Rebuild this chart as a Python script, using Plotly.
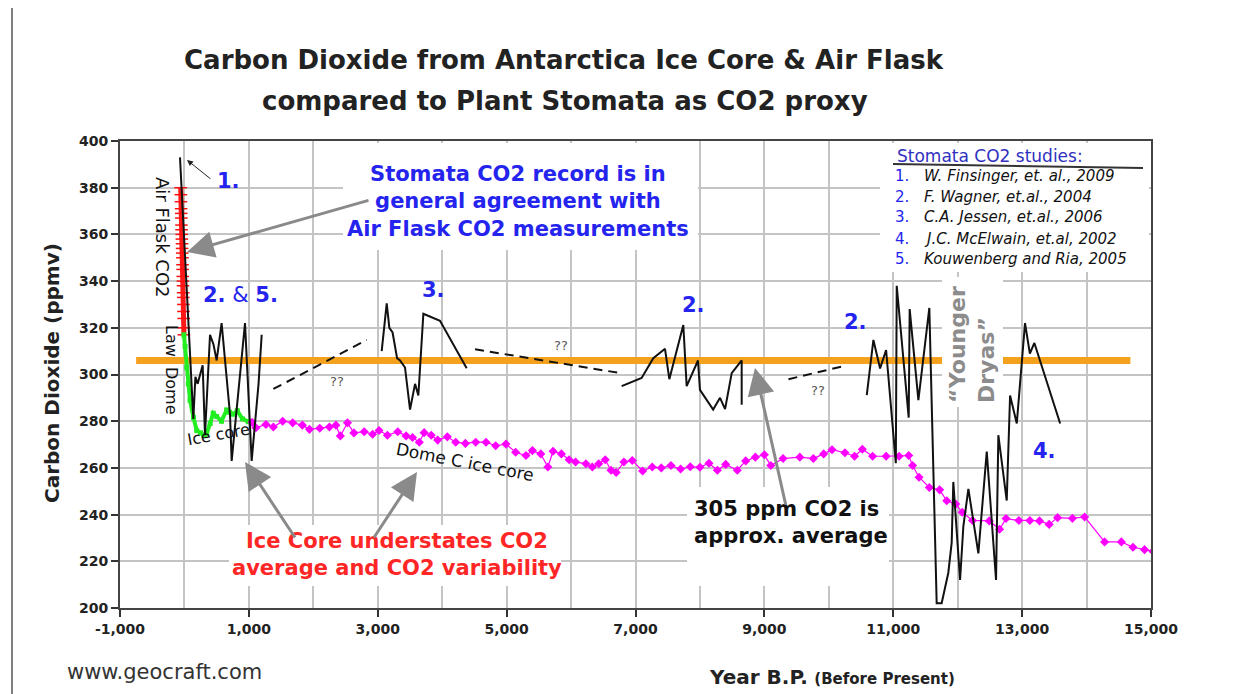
import plotly.graph_objects as go

# ---------------- data ----------------
orange_years = [-750, 14680]
orange_ppm = [306, 306]

red_years = [-58, -56, -54, -52, -50, -48, -46, -44, -42, -40, -38, -36, -34,
             -32, -30, -28, -26, -24, -22, -20, -18, -16, -14, -12, -10, -8]
red_ppm = [380, 377, 374, 371, 369, 367, 364, 362, 360, 358, 356, 354, 352,
           350, 347, 345, 342, 340, 338, 335, 333, 330, 327, 324, 320, 317]

green_years = [-8, 10, 35, 60, 87, 140, 190, 250, 300, 345, 400, 447, 500, 575,
               655, 700, 758, 820, 900, 991, 1050]
green_ppm = [317, 312, 303, 296, 289, 281.6, 276, 275, 274, 274.5, 279, 283.4,
             282, 280, 284.8, 283.8, 283, 284.5, 281, 279.8, 279.5]

mag_years = [1050, 1110, 1265, 1380, 1524, 1680, 1830, 1940, 2100, 2250,
             2350, 2420, 2530, 2630, 2790, 2920, 3020, 3150, 3310, 3440,
             3540, 3645, 3720, 3830, 3930, 4080, 4210, 4360, 4520, 4680,
             4830, 4990, 5140, 5300, 5400, 5530, 5640, 5720, 5850, 5970,
             6070, 6230, 6330, 6430, 6530, 6620, 6700, 6820, 6950, 7110,
             7260, 7400, 7550, 7700, 7850, 8000, 8140, 8270, 8400, 8580,
             8710, 8860, 9000, 9100, 9290, 9550, 9760, 9920, 10050, 10250,
             10400, 10520, 10680, 10890, 11090, 11240, 11300, 11400, 11560, 11720,
             11830, 11970, 12070, 12230, 12490, 12650, 12750, 12950, 13120, 13270,
             13420, 13550, 13780, 13970, 14280, 14540, 14720, 14900, 15030]
mag_ppm = [279.5, 277.2, 278.6, 277.5, 280, 279.3, 278.3, 276.5, 277, 277.5,
           278.3, 273.7, 279.3, 275, 275.5, 274.4, 276, 274, 275.5, 273.7,
           273, 271, 275.1, 274, 271.9, 273.3, 271, 270.5, 271, 271,
           269.5, 270.2, 266.7, 265.3, 267.4, 266, 260.4, 267.1, 266, 263.5,
           262.5, 261.8, 260.4, 261.8, 263.5, 259, 258, 262.5, 263.2, 258.7,
           260.4, 260, 261, 259.5, 260.5, 260.3, 262, 259, 261.5, 259,
           263, 264.6, 265.6, 261, 264, 264.6, 264, 266, 267.8, 266.5,
           265, 268, 265, 265, 265, 265.3, 261, 256, 251.6, 250.6,
           245.9, 244.5, 241, 237.5, 237.3, 233.7, 238.3, 237.5, 237.5, 237.3,
           235.8, 238.7, 238.4, 239, 228.3, 228.3, 226, 225, 224.3]

# stomata records (black)
st1_years = [-69, 138, 170, 205, 283, 319, 397, 450, 500, 577, 707, 733, 940, 1043, 1150, 1199]
st1_ppm = [393, 281, 299, 296, 304, 274, 317, 313, 306, 322, 283, 263, 322, 263, 296, 317]

st3_years = [3061, 3139, 3180, 3230, 3300, 3346, 3423, 3501, 3579, 3630, 3708, 3966, 4380]
st3_ppm = [310, 330.5, 320, 318, 307, 306, 303, 285, 296, 291, 326, 323, 302.7]

st2_years = [6785, 7095, 7276, 7458, 7525, 7742, 7794, 7925, 7970, 8000, 8205,
             8312, 8390, 8493, 8648, 8648]
st2_ppm = [295, 298.5, 307, 311, 298, 321.2, 295, 303, 306, 293.4, 285,
           290, 285.2, 300.6, 306, 287]

st4_years = [10589, 10692, 10796, 10889, 11040, 11054, 11240, 11255, 11390, 11560,
             11674, 11751, 11854, 11907, 11932, 12037, 12088, 12166, 12321, 12451,
             12595, 12631, 12761, 12813, 12917, 13045, 13120, 13190, 13590]
st4_ppm = [291.2, 314.8, 302.6, 310.5, 262, 338, 281.5, 328, 289, 328.5,
           202, 202, 215, 228, 254, 212, 235, 251, 223.4, 267,
           212, 274, 246, 291, 279, 322, 309, 313.5, 279]

gap_segments = [([1380, 2828], [293.8, 314.8]),
                ([4510, 6785], [310.8, 300.5]),
                ([9374, 10202], [298, 303.4])]

x_tick_vals = [-1000, 1000, 3000, 5000, 7000, 9000, 11000, 13000, 15000]
x_tick_text = ["-1,000", "1,000", "3,000", "5,000", "7,000", "9,000",
               "11,000", "13,000", "15,000"]

studies_num = ["1.", "2.", "3.", "4.", "5."]
studies_name = ["W. Finsinger, et. al., 2009", "F. Wagner, et.al., 2004",
                "C.A. Jessen, et.al., 2006", "J.C. McElwain, et.al, 2002",
                "Kouwenberg and Ria, 2005"]

# ---------------- figure ----------------
# plot area in reference pixels
L, R, T, B = 120, 1151, 141, 608
OFF = 8            # page body margin of the browser
W, H = 1248 - OFF, 694 - OFF


def px(x):
    return (x - L) / (R - L)


def py(y):
    return (B - y) / (B - T)


FONT = "Liberation Sans, Arial, sans-serif"
WIDE = "DejaVu Sans, Verdana, sans-serif"
BLUE = "#2424EE"

fig = go.Figure()
fig.add_trace(go.Scatter(x=orange_years, y=orange_ppm, mode="lines",
                         line=dict(color="#F4A21E", width=7)))
fig.add_trace(go.Scatter(x=red_years, y=red_ppm, mode="lines+markers",
                         line=dict(color="#FF1A1A", width=5),
                         marker=dict(symbol="line-ew", size=9,
                                     line=dict(color="#FF1010", width=1.5))))
fig.add_trace(go.Scatter(x=green_years, y=green_ppm, mode="lines+markers",
                         line=dict(color="#22EE22", width=4),
                         marker=dict(symbol="square", size=5, color="#22EE22")))
fig.add_trace(go.Scatter(x=mag_years, y=mag_ppm, mode="lines+markers",
                         line=dict(color="#FF00FF", width=1.2),
                         marker=dict(symbol="diamond", size=7, color="#FF00FF")))
for xs, ys in [(st1_years, st1_ppm), (st3_years, st3_ppm),
               (st2_years, st2_ppm), (st4_years, st4_ppm)]:
    fig.add_trace(go.Scatter(x=xs, y=ys, mode="lines",
                             line=dict(color="#111111", width=2)))
for xs, ys in gap_segments:
    fig.add_trace(go.Scatter(x=xs, y=ys, mode="lines",
                             line=dict(color="#111111", width=2, dash="9px,6px")))

shapes = []
# white text boxes covering grid
for (x0, y0, x1, y1) in [(880, 143, 1149, 272), (343, 143, 698, 250),
                         (687, 487, 889, 586), (229, 525, 561, 586),
                         (942, 277, 1003, 407)]:
    shapes.append(dict(type="rect", xref="paper", yref="paper",
                       x0=px(x0), x1=px(x1), y0=py(y1), y1=py(y0),
                       fillcolor="white", line=dict(width=0), layer="above"))
shapes.append(dict(type="line", xref="paper", yref="paper",
                   x0=px(893), y0=py(164), x1=px(1143), y1=py(168),
                   line=dict(color="#333333", width=2), layer="above"))
# outer frame (left edge)
shapes.append(dict(type="line", xref="paper", yref="paper",
                   x0=px(12), y0=py(700), x1=px(12), y1=py(0),
                   line=dict(color="#555555", width=1.5)))

ann = []


def text(t, x, y, size, color="#111111", bold=False, italic=False, angle=0,
         xanchor="center", align="center", fam=WIDE):
    ann.append(dict(text=t, x=px(x), y=py(y), xref="paper", yref="paper",
                    showarrow=False, textangle=angle, xanchor=xanchor,
                    yanchor="middle", align=align,
                    font=dict(family=fam, size=size, color=color,
                              weight="bold" if bold else "normal",
                              style="italic" if italic else "normal")))


def arrow(hx, hy, tx, ty, color="#8A8A8A", width=3, size=1.8):
    ann.append(dict(text="", x=px(hx), y=py(hy), xref="paper", yref="paper",
                    ax=tx - hx, ay=ty - hy, showarrow=True, arrowhead=2,
                    arrowsize=size, arrowwidth=width, arrowcolor=color))


text("Carbon Dioxide from Antarctica Ice Core &amp; Air Flask", 564, 60, 26, "#222222", bold=True)
text("compared to Plant Stomata as CO2 proxy", 565, 101, 26, "#222222", bold=True)
text("Carbon Dioxide (ppmv)", 52, 373, 20, "#222222", bold=True, angle=-90)
text("www.geocraft.com", 65, 672, 21, "#333333", xanchor="left")
text("<b>Year B.P.</b> <span style='font-size:15px'><b>(Before Present)</b></span>",
     832, 677, 20, "#222222")

text("Stomata CO2 record is in<br>general agreement with<br>Air Flask CO2 measurements",
     518, 201, 21, BLUE, bold=True)
text("Ice Core understates CO2<br>average and CO2 variability", 397, 554, 21, "#FF2626", bold=True)
text("305 ppm CO2 is<br>approx. average", 692, 522, 21, "#111111", bold=True,
     xanchor="left", align="left")
text("“Younger<br>Dryas”", 972, 345, 22, "#8C8C8C", bold=True, angle=-90, align="left")

text("1.", 228, 181, 21, BLUE, bold=True)
text("<b>2.</b> &amp; <b>5.</b>", 240, 295, 21, BLUE)
text("3.", 433, 290, 21, BLUE, bold=True)
text("2.", 693, 305, 21, BLUE, bold=True)
text("2.", 855, 322, 21, BLUE, bold=True)
text("4.", 1044, 451, 21, BLUE, bold=True)
for (qx, qy) in [(337, 381), (561, 345), (818, 390)]:
    text("??", qx, qy, 13, "#555555")

text("Air Flask CO2", 163, 237, 18, "#111111", angle=90)
text("Law  Dome", 172, 370, 16, "#111111", angle=90)
text("Ice core", 218, 434, 16, "#111111", angle=-10)
text("Dome C ice core", 465, 462, 17, "#111111", angle=11)

text("Stomata CO2 studies:", 895, 156, 17, "#3030C0", xanchor="left")
for i, (n, nm) in enumerate(zip(studies_num, studies_name)):
    yy = [176, 197, 217, 239, 259][i]
    text(n, 893, yy, 15, BLUE, xanchor="left")
    text(nm, 922, yy, 15, "#111111", italic=True, xanchor="left")

arrow(187, 252, 370, 200)
arrow(245, 462, 296, 539)
arrow(417, 472, 373, 539)
arrow(755, 368, 786, 506)
arrow(187, 160, 212, 180, color="#222222", width=1, size=1.2)

grid = "#C4C4C4"
tickfont = dict(family=WIDE, size=14, color="#222222", weight="bold")
fig.update_layout(
    width=W, height=H, showlegend=False,
    margin=dict(l=L - OFF, r=W - (R - OFF), t=T - OFF, b=H - (B - OFF), pad=0),
    plot_bgcolor="white", paper_bgcolor="white",
    font=dict(family=FONT, color="#222222"),
    shapes=shapes, annotations=ann,
    xaxis=dict(range=[-1000, 15000], tickmode="array", tickvals=x_tick_vals,
               ticktext=x_tick_text, ticks="outside", ticklen=7, tickwidth=1.5,
               tickcolor="#333333", showgrid=True, gridcolor=grid, gridwidth=1.5,
               minor=dict(tickmode="linear", tick0=0, dtick=2000, showgrid=True,
                          gridcolor=grid, gridwidth=1.5, ticks=""),
               showline=True, linecolor="#444444", linewidth=2, mirror=True,
               zeroline=False, tickfont=tickfont),
    yaxis=dict(range=[200, 400], dtick=20, ticks="outside", ticklen=7, tickwidth=1.5,
               tickcolor="#333333", showgrid=True, gridcolor=grid, gridwidth=1.5,
               showline=True, linecolor="#444444", linewidth=2, mirror=True,
               zeroline=False, tickfont=tickfont),
)

fig.write_html("out.html")
